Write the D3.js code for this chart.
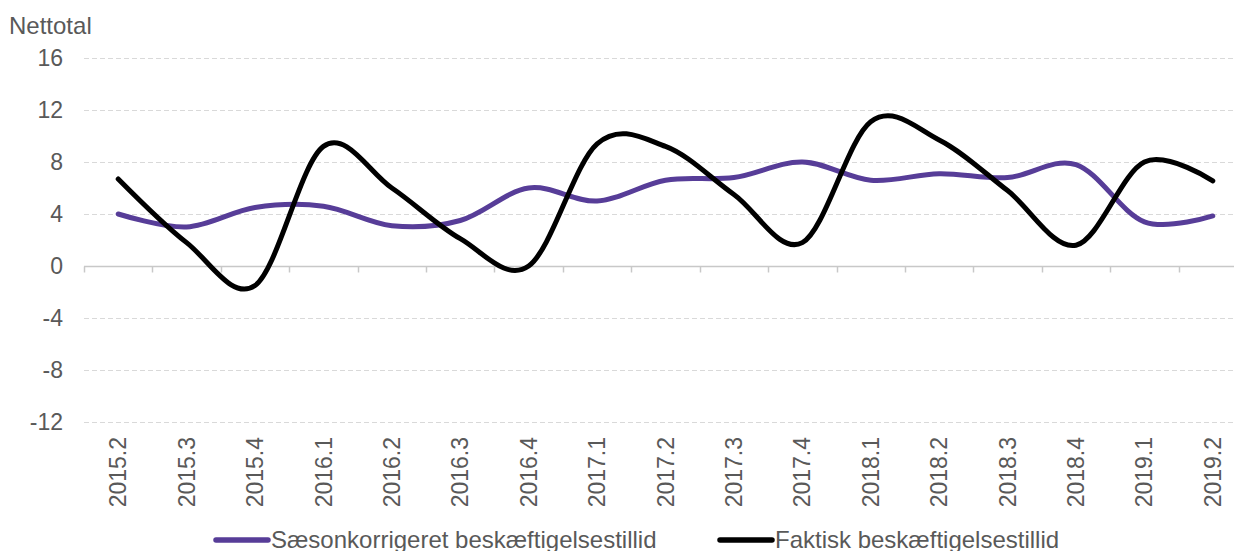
<!DOCTYPE html>
<html>
<head>
<meta charset="utf-8">
<script src="https://cdn.jsdelivr.net/npm/d3@7"></script>
<style>
  body { margin: 0; background: #fff; }
  svg text { font-family: "Liberation Sans", Arial, sans-serif; fill: #595959; }
</style>
</head>
<body>
<div id="chart"></div>
<script>
/////////////////////////////////////
///      DATA
/////////////////////////////////////
var quarters = ["2015.2","2015.3","2015.4","2016.1","2016.2","2016.3","2016.4",
                "2017.1","2017.2","2017.3","2017.4","2018.1","2018.2","2018.3",
                "2018.4","2019.1","2019.2"];
var saeson  = [4.0, 3.0, 4.5, 4.6, 3.1, 3.5, 6.0, 5.0, 6.6, 6.8, 8.0, 6.6, 7.1, 6.8, 7.8, 3.4, 3.85];
var faktisk = [6.7, 1.8, -1.5, 9.2, 6.0, 2.1, 0.0, 9.4, 9.2, 5.5, 1.8, 11.1, 9.7, 5.8, 1.6, 8.0, 6.55];
var yTicks  = [-12, -8, -4, 0, 4, 8, 12, 16];
var seriesNames = ["Sæsonkorrigeret beskæftigelsestillid", "Faktisk beskæftigelsestillid"];
var seriesColors = ["#573d98", "#000000"];

/////////////////////////////////////
///      CHART
/////////////////////////////////////
var W = 1234, H = 551;
var plotLeft = 84, plotRight = 1247, plotTop = 58, plotBottom = 422;
var fontSize = "23px";

var svg = d3.select("#chart").append("svg")
  .attr("width", W)
  .attr("height", H);

var x = d3.scaleBand().domain(quarters).range([plotLeft, plotRight]);
var y = d3.scaleLinear().domain([-12, 16]).range([plotBottom, plotTop]);

// grid lines
svg.append("g").selectAll("line")
  .data(yTicks.filter(function(d){ return d !== 0; }))
  .enter().append("line")
  .attr("x1", plotLeft).attr("x2", W)
  .attr("y1", function(d){ return Math.round(y(d)) + 0.5; })
  .attr("y2", function(d){ return Math.round(y(d)) + 0.5; })
  .attr("stroke", "#d9d9d9")
  .attr("stroke-width", 1)
  .attr("stroke-dasharray", "5,3");

// y labels
svg.append("g").selectAll("text")
  .data(yTicks)
  .enter().append("text")
  .attr("x", 63)
  .attr("y", function(d){ return y(d); })
  .attr("dy", "0.35em")
  .attr("text-anchor", "end")
  .style("font-size", fontSize)
  .text(function(d){ return d; });

svg.append("text")
  .attr("x", 9).attr("y", 34)
  .style("font-size", "24px")
  .text("Nettotal");

// zero axis with ticks between categories
var zeroY = Math.round(y(0)) + 0.5;
svg.append("line")
  .attr("x1", plotLeft).attr("x2", W)
  .attr("y1", zeroY).attr("y2", zeroY)
  .attr("stroke", "#c8c8c8").attr("stroke-width", 1.5);

svg.append("g").selectAll("line")
  .data(quarters)
  .enter().append("line")
  .attr("x1", function(d){ return Math.round(x(d)) + 0.5; })
  .attr("x2", function(d){ return Math.round(x(d)) + 0.5; })
  .attr("y1", zeroY).attr("y2", zeroY + 6)
  .attr("stroke", "#c8c8c8").attr("stroke-width", 1.5);

// x labels, rotated
svg.append("g").selectAll("text")
  .data(quarters)
  .enter().append("text")
  .attr("transform", function(d){
    return "translate(" + (x(d) + x.bandwidth()/2) + "," + 437 + ") rotate(-90)";
  })
  .attr("dy", "0.35em")
  .attr("text-anchor", "end")
  .style("font-size", fontSize)
  .text(function(d){ return d; });

// lines
var line = d3.line()
  .x(function(d, i){ return x(quarters[i]) + x.bandwidth()/2; })
  .y(function(d){ return y(d); })
  .curve(d3.curveCardinal.tension(0));

[saeson, faktisk].forEach(function(vals, k){
  svg.append("path")
    .datum(vals)
    .attr("d", line)
    .attr("fill", "none")
    .attr("stroke", seriesColors[k])
    .attr("stroke-width", 5)
    .attr("stroke-linecap", "round")
    .attr("stroke-linejoin", "round");
});

// legend
var legendX = [214, 718];
seriesNames.forEach(function(name, k){
  var g = svg.append("g").attr("transform", "translate(" + legendX[k] + ",540)");
  g.append("line")
    .attr("x1", 2).attr("x2", 54)
    .attr("y1", 0).attr("y2", 0)
    .attr("stroke", seriesColors[k])
    .attr("stroke-width", 5.5)
    .attr("stroke-linecap", "round");
  g.append("text")
    .attr("x", 57).attr("y", 0)
    .attr("dy", "0.35em")
    .style("font-size", "24px")
    .text(name);
});
</script>
</body>
</html>
